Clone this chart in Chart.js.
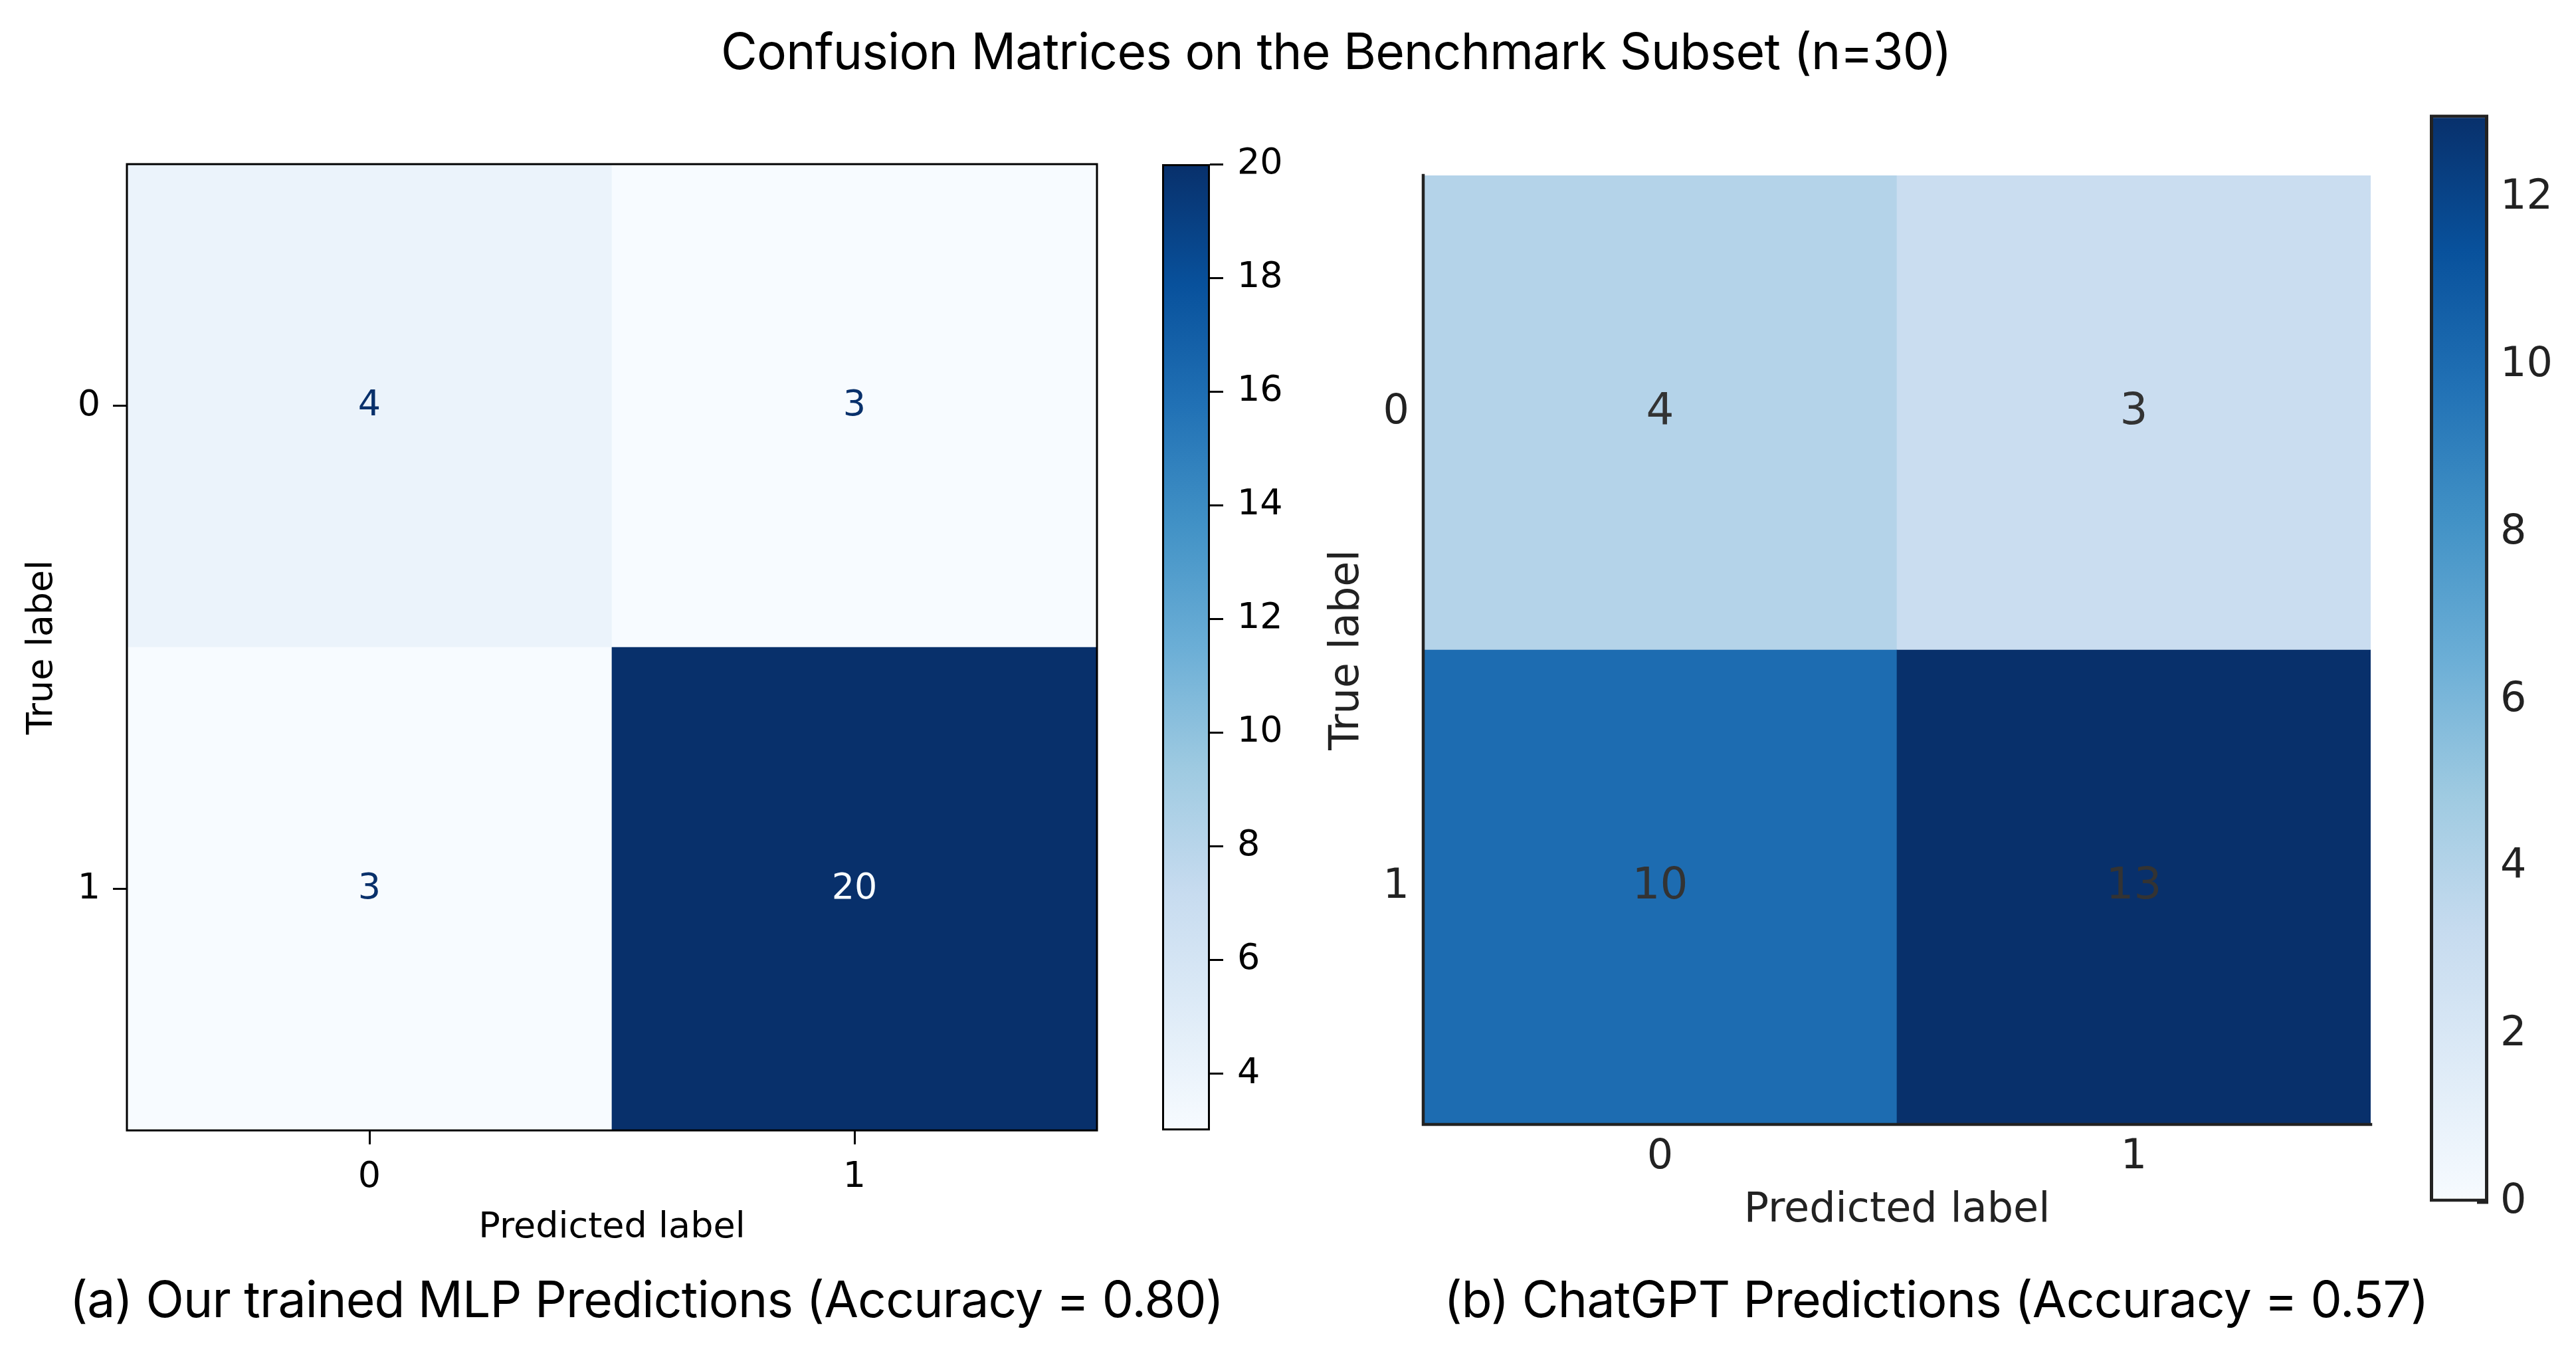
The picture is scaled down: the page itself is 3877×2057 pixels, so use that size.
<!DOCTYPE html>
<html>
<head>
<meta charset="utf-8">
<script src="https://cdn.jsdelivr.net/npm/chart.js@4.4.1/dist/chart.umd.min.js"></script>
<style>
  html, body { margin: 0; padding: 0; background: #ffffff; }
  #page { position: relative; width: 3877px; height: 2057px; overflow: hidden; background: #ffffff; }
  canvas.cv { position: absolute; }
  .txt { position: absolute; white-space: nowrap; font-family: Inter, 'Noto Sans', sans-serif; color: #000; line-height: 1; letter-spacing: -0.8px; transform: translateX(-50%); }
</style>
</head>
<body>
<div id="page">
  <div class="txt" id="mainTitle" style="left:2011px; top:39px; font-size:75px;"></div>
  <canvas id="mlpMatrix" class="cv" width="1700" height="1780" style="left:0px; top:150px;"></canvas>
  <canvas id="mlpColorbar" class="cv" width="300" height="1780" style="left:1700px; top:150px;"></canvas>
  <canvas id="gptMatrix" class="cv" width="1700" height="1780" style="left:1930px; top:150px;"></canvas>
  <canvas id="gptColorbar" class="cv" width="247" height="1800" style="left:3630px; top:100px;"></canvas>
  <div class="txt" id="captionA" style="left:973px; top:1917px; font-size:75px;"></div>
  <div class="txt" id="captionB" style="left:2914px; top:1917px; font-size:75px;"></div>
</div>
<script>
// ---------------- data ----------------
const figureTitle = 'Confusion Matrices on the Benchmark Subset (n=30)';
const panelCaptions = ['(a) Our trained MLP Predictions (Accuracy = 0.80)', '(b) ChatGPT Predictions (Accuracy = 0.57)'];
const classLabels = ['0', '1'];
const xAxisTitle = 'Predicted label';
const yAxisTitle = 'True label';
const mlpCounts = [[4, 3], [3, 20]];
const chatgptCounts = [[4, 3], [10, 13]];
const mlpColorLimits = [3, 20];
const chatgptColorLimits = [0, 13];
const mlpColorbarTicks = [4, 6, 8, 10, 12, 14, 16, 18, 20];
const chatgptColorbarTicks = [0, 2, 4, 6, 8, 10, 12];

// ---------------- colormap (matplotlib "Blues") ----------------
const BLUES = ['#f7fbff', '#deebf7', '#c6dbef', '#9ecae1', '#6baed6', '#4292c6', '#2171b5', '#08519c', '#08306b'];
function hexRgb(h) { return [1, 3, 5].map(i => parseInt(h.slice(i, i + 2), 16)); }
function blues(t) {
  t = Math.max(0, Math.min(1, t));
  const s = t * (BLUES.length - 1);
  const i = Math.min(BLUES.length - 2, Math.floor(s));
  const f = s - i;
  const a = hexRgb(BLUES[i]), b = hexRgb(BLUES[i + 1]);
  const c = a.map((v, k) => Math.round(v + (b[k] - v) * f));
  return `rgb(${c[0]},${c[1]},${c[2]})`;
}

const MPL_FONT = "'DejaVu Sans', sans-serif";

document.getElementById('mainTitle').textContent = figureTitle;
document.getElementById('captionA').textContent = panelCaptions[0];
document.getElementById('captionB').textContent = panelCaptions[1];

// ---------------- plugins ----------------
function framePlugin(st) {
  return {
    id: 'frame',
    afterDatasetsDraw(chart) {
      const { ctx, chartArea: a } = chart;
      ctx.save();
      ctx.strokeStyle = st.frameColor;
      ctx.lineWidth = st.frameWidth;
      ctx.lineCap = 'square';
      ctx.beginPath();
      const seg = { top: [a.left, a.top, a.right, a.top], right: [a.right, a.top, a.right, a.bottom],
                    bottom: [a.left, a.bottom, a.right, a.bottom], left: [a.left, a.top, a.left, a.bottom] };
      st.frameSides.forEach(s => { const p = seg[s]; ctx.moveTo(p[0], p[1]); ctx.lineTo(p[2], p[3]); });
      ctx.stroke();
      ctx.restore();
    }
  };
}

function cellValuesPlugin(st, counts) {
  const flat = counts.flat();
  const thresh = (Math.max(...flat) + Math.min(...flat)) / 2;
  return {
    id: 'cellValues',
    afterDatasetsDraw(chart) {
      const { ctx } = chart;
      const meta = chart.getDatasetMeta(0);
      ctx.save();
      ctx.font = `${st.valueFont}px ${MPL_FONT}`;
      ctx.textAlign = 'center';
      ctx.textBaseline = 'middle';
      meta.data.forEach((bar, i) => {
        const v = chart.data.datasets[0].data[i].count;
        ctx.fillStyle = st.valueColor ? st.valueColor : (v < thresh ? '#08306b' : '#f7fbff');
        ctx.fillText(String(v), bar.x, (bar.y + bar.base) / 2 + st.valueShift);
      });
      ctx.restore();
    }
  };
}

// ---------------- chart builders ----------------
function makeMatrix(id, counts, limits, st) {
  const [vmin, vmax] = limits;
  const cells = [];
  counts.forEach((row, r) => row.forEach((v, c) => cells.push({ x: c, y: [r - 0.5, r + 0.5], count: v })));
  const font = { family: MPL_FONT, size: st.font };
  const gridOpts = { display: true, drawOnChartArea: false, drawTicks: true, offset: false,
                     tickLength: st.tickLength, tickWidth: st.tickWidth, tickColor: st.tickColor };
  return new Chart(document.getElementById(id), {
    type: 'bar',
    data: {
      datasets: [{
        data: cells,
        backgroundColor: ctx => ctx.raw ? blues((ctx.raw.count - vmin) / (vmax - vmin)) : BLUES[0],
        borderWidth: 0,
        categoryPercentage: 1,
        barPercentage: 1,
        grouped: false
      }]
    },
    options: {
      responsive: false, animation: false, devicePixelRatio: 1,
      layout: { padding: st.padding },
      plugins: { legend: { display: false }, tooltip: { enabled: false } },
      scales: {
        x: {
          type: 'linear', position: 'bottom', offset: false, z: st.z,
          min: -0.5, max: classLabels.length - 0.5,
          afterBuildTicks: s => { s.ticks = classLabels.map((_, i) => ({ value: i })); },
          afterFit: s => { s.height = st.xAxisSize; },
          ticks: { callback: v => classLabels[v], font, color: st.labelColor, padding: st.xTickPad, maxRotation: 0, autoSkip: false },
          grid: gridOpts,
          border: { display: false },
          title: { display: true, text: xAxisTitle, font, color: st.labelColor, padding: { top: 0, bottom: st.xTitlePad } }
        },
        y: {
          type: 'linear', position: 'left', reverse: true, offset: false, z: st.z,
          min: -0.5, max: classLabels.length - 0.5,
          afterBuildTicks: s => { s.ticks = classLabels.map((_, i) => ({ value: i })); },
          afterFit: s => { s.width = st.yAxisSize; },
          ticks: { callback: v => classLabels[v], font, color: st.labelColor, padding: st.yTickPad, autoSkip: false },
          grid: gridOpts,
          border: { display: false },
          title: { display: true, text: yAxisTitle, font, color: st.labelColor, padding: { top: st.yTitlePad, bottom: 0 } }
        }
      }
    },
    plugins: [framePlugin(st), cellValuesPlugin(st, counts)]
  });
}

function makeColorbar(id, limits, tickValues, st) {
  const [vmin, vmax] = limits;
  return new Chart(document.getElementById(id), {
    type: 'bar',
    data: {
      labels: [''],
      datasets: [{
        data: [[vmin, vmax]],
        backgroundColor: ctx => {
          const ch = ctx.chart;
          if (!ch.chartArea) return BLUES[0];
          const ys = ch.scales.y;
          const g = ch.ctx.createLinearGradient(0, ys.getPixelForValue(vmin), 0, ys.getPixelForValue(vmax));
          BLUES.forEach((c, i) => g.addColorStop(i / (BLUES.length - 1), c));
          return g;
        },
        borderColor: st.outlineColor,
        borderWidth: st.outlineWidth,
        borderSkipped: false,
        inflateAmount: 0,
        categoryPercentage: 1,
        barPercentage: 1
      }]
    },
    options: {
      responsive: false, animation: false, devicePixelRatio: 1,
      layout: { padding: st.padding },
      plugins: { legend: { display: false }, tooltip: { enabled: false } },
      scales: {
        x: { display: false },
        y: {
          type: 'linear', position: 'right', min: vmin, max: vmax, z: 1,
          afterBuildTicks: s => { s.ticks = tickValues.map(v => ({ value: v })); },
          afterFit: s => { s.width = st.axisSize; },
          ticks: { font: { family: MPL_FONT, size: st.font }, color: st.labelColor, padding: st.tickPad, autoSkip: false },
          grid: { display: true, drawOnChartArea: false, drawTicks: true, tickLength: st.tickLength, tickWidth: st.tickWidth, tickColor: st.tickColor },
          border: { display: false }
        }
      }
    }
  });
}

// ---------------- build ----------------
makeMatrix('mlpMatrix', mlpCounts, mlpColorLimits, {
  padding: { left: 0, top: 97, right: 49, bottom: 49 },
  xAxisSize: 180, yAxisSize: 191, font: 54, valueFont: 54, valueShift: 0,
  tickLength: 21, tickWidth: 3, tickColor: '#000000', labelColor: '#000000',
  xTickPad: 18, yTickPad: 19, xTitlePad: 1, yTitlePad: 32,
  frameSides: ['top', 'right', 'bottom', 'left'], frameWidth: 3, frameColor: '#000000',
  valueColor: null, z: 0
});
makeColorbar('mlpColorbar', mlpColorLimits, mlpColorbarTicks, {
  padding: { left: 49, top: 97, right: 0, bottom: 229 }, axisSize: 179,
  font: 54, labelColor: '#000000', tickPad: 21, tickLength: 20, tickWidth: 3, tickColor: '#000000',
  outlineColor: '#000000', outlineWidth: 3
});
makeMatrix('gptMatrix', chatgptCounts, chatgptColorLimits, {
  padding: { left: 0, top: 114, right: 62, bottom: 38 },
  xAxisSize: 200, yAxisSize: 212, font: 62, valueFont: 66, valueShift: 0,
  tickLength: -17, tickWidth: 4, tickColor: '#222222', labelColor: '#222222',
  xTickPad: 30, yTickPad: 38, xTitlePad: 33, yTitlePad: 61,
  frameSides: ['bottom', 'left'], frameWidth: 4.5, frameColor: '#222222',
  valueColor: '#333333', z: 1
});
makeColorbar('gptColorbar', chatgptColorLimits, chatgptColorbarTicks, {
  padding: { left: 27, top: 49, right: 0, bottom: 91 }, axisSize: 132,
  font: 62, labelColor: '#222222', tickPad: 35, tickLength: -17, tickWidth: 4, tickColor: '#222222',
  outlineColor: '#222222', outlineWidth: 5
});
</script>
</body>
</html>
